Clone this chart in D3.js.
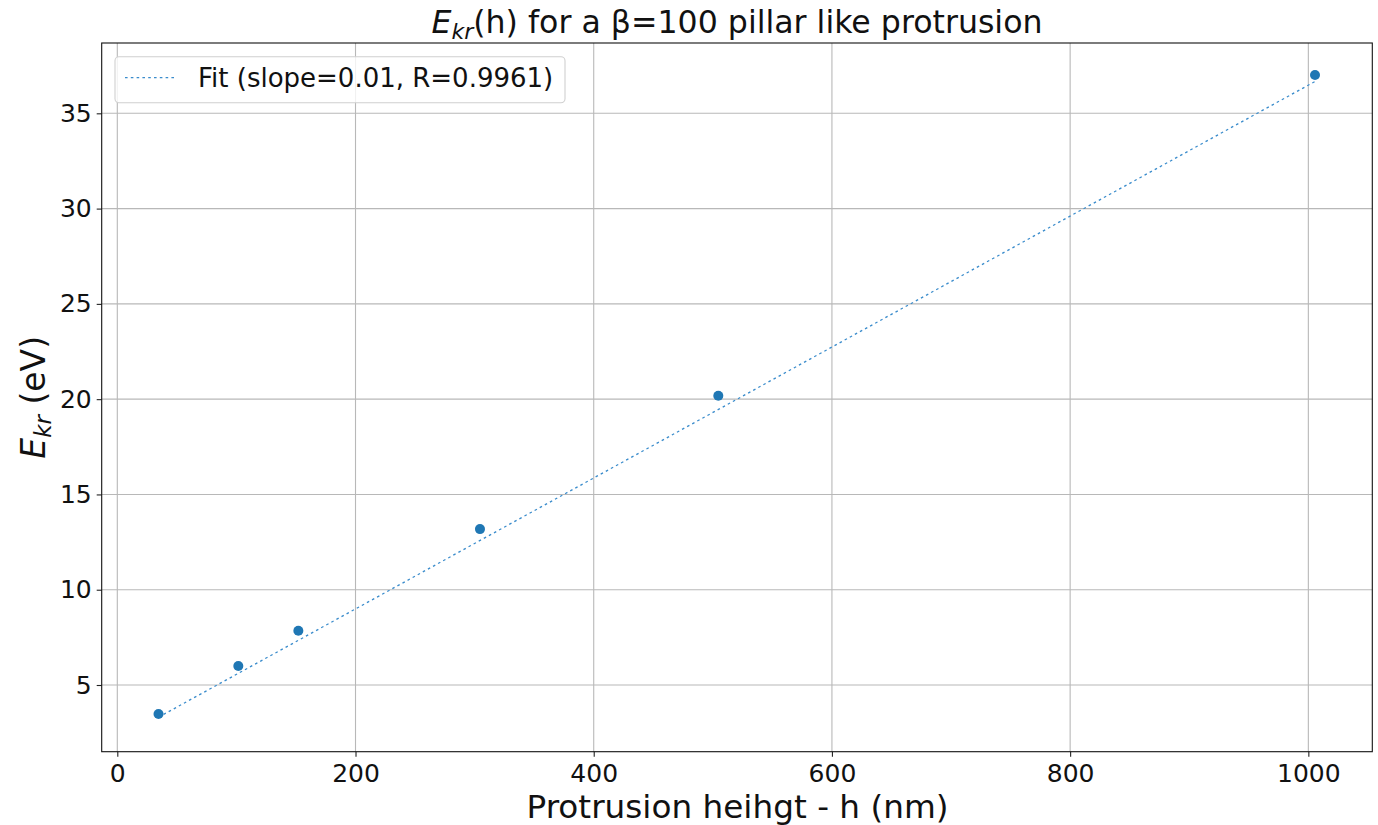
<!DOCTYPE html>
<html>
<head>
<meta charset="utf-8">
<script src="https://cdn.jsdelivr.net/npm/d3@7"></script>
<style>
  html, body { margin: 0; padding: 0; background: #fff; }
  svg { display: block; font-family: "DejaVu Sans", sans-serif; }
</style>
</head>
<body>
<svg id="chart" width="1378" height="825"></svg>
<script>
// ---- data ----
const heights = [34.6, 101.6, 152, 304.5, 504.6, 1005.6];
const energies = [3.48, 6.0, 7.85, 13.18, 20.18, 37.01];
const fitX = [34.6, 1005.6];
const fitY = [3.31, 36.67];
const xTicks = [0, 200, 400, 600, 800, 1000];
const yTicks = [5, 10, 15, 20, 25, 30, 35];
const legendLabel = "Fit (slope=0.01, R=0.9961)";

// ---- layout ----
const svg = d3.select("#chart");
const L = 101.7, R = 1372.3, T = 43, B = 751.7;
const x = d3.scaleLinear().domain([-13.1, 1053.7]).range([L, R]);
const y = d3.scaleLinear().domain([1.50, 38.69]).range([B, T]);
const blue = "#1f77b4";

// grid
const g = svg.append("g");
g.selectAll("line.gx").data(xTicks).join("line")
  .attr("x1", d => x(d)).attr("x2", d => x(d)).attr("y1", T).attr("y2", B)
  .attr("stroke", "#b8b8b8").attr("stroke-width", 1.1);
g.selectAll("line.gy").data(yTicks).join("line")
  .attr("y1", d => y(d)).attr("y2", d => y(d)).attr("x1", L).attr("x2", R)
  .attr("stroke", "#b8b8b8").attr("stroke-width", 1.1);

// fit line
const fitData = fitX.map((v, i) => [v, fitY[i]]);
svg.append("path").datum(fitData)
  .attr("d", d3.line().x(d => x(d[0])).y(d => y(d[1])))
  .attr("fill", "none").attr("stroke", "#3a8ccc").attr("stroke-width", 1.3)
  .attr("stroke-dasharray", "2.6,3.2");

// points
svg.selectAll("circle.pt").data(heights).join("circle")
  .attr("cx", d => x(d)).attr("cy", (d, i) => y(energies[i])).attr("r", 5)
  .attr("fill", blue);

// axes
const xAxis = d3.axisBottom(x).tickValues(xTicks).tickSize(5).tickPadding(5).tickFormat(d3.format("d"));
const yAxis = d3.axisLeft(y).tickValues(yTicks).tickSize(5).tickPadding(5).tickFormat(d3.format("d"));
const gx = svg.append("g").attr("transform", `translate(0,${B})`).call(xAxis);
const gy = svg.append("g").attr("transform", `translate(${L},0)`).call(yAxis);
[gx, gy].forEach(a => {
  a.select(".domain").remove();
  a.selectAll(".tick line").attr("stroke", "#222").attr("stroke-width", 1.1);
  a.selectAll(".tick text").attr("font-family", "DejaVu Sans").attr("font-size", 25).attr("fill", "#111");
});
gx.selectAll(".tick text").attr("dy", "0.8em");

// frame
svg.append("rect").attr("x", L).attr("y", T).attr("width", R - L).attr("height", B - T)
  .attr("fill", "none").attr("stroke", "#111").attr("stroke-width", 1.1);

// x label
svg.append("text").attr("x", (L + R) / 2 + 0.5).attr("y", 818).attr("text-anchor", "middle")
  .attr("font-size", 32.7).attr("fill", "#111").text("Protrusion heihgt - h (nm)");

// y label
const yl = svg.append("text").attr("transform", `translate(45,${(T + B) / 2}) rotate(-90)`)
  .attr("text-anchor", "middle").attr("font-size", 33).attr("fill", "#111");
yl.append("tspan").attr("font-style", "italic").text("E");
yl.append("tspan").attr("font-style", "italic").attr("font-size", 23).attr("dy", 6).text("kr");
yl.append("tspan").attr("dy", -6).text(" (eV)");

// title
const tt = svg.append("text").attr("x", (L + R) / 2).attr("y", 33).attr("text-anchor", "middle")
  .attr("font-size", 31.6).attr("fill", "#111");
tt.append("tspan").attr("font-style", "italic").text("E");
tt.append("tspan").attr("font-style", "italic").attr("font-size", 22).attr("dy", 6).text("kr");
tt.append("tspan").attr("dy", -6).text("(h) for a β=100 pillar like protrusion");

// legend
const lg = svg.append("g");
lg.append("rect").attr("x", 115).attr("y", 56.7).attr("width", 450).attr("height", 46)
  .attr("rx", 4).attr("fill", "#fff").attr("fill-opacity", 0.8)
  .attr("stroke", "#d0d0d0").attr("stroke-width", 1.1);
lg.append("line").attr("x1", 125).attr("x2", 176).attr("y1", 77.7).attr("y2", 77.7)
  .attr("stroke", "#3a8ccc").attr("stroke-width", 1.3).attr("stroke-dasharray", "2.6,3.2");
lg.append("text").attr("x", 198).attr("y", 87).attr("font-size", 26).attr("fill", "#111").text(legendLabel);
</script>
</body>
</html>
